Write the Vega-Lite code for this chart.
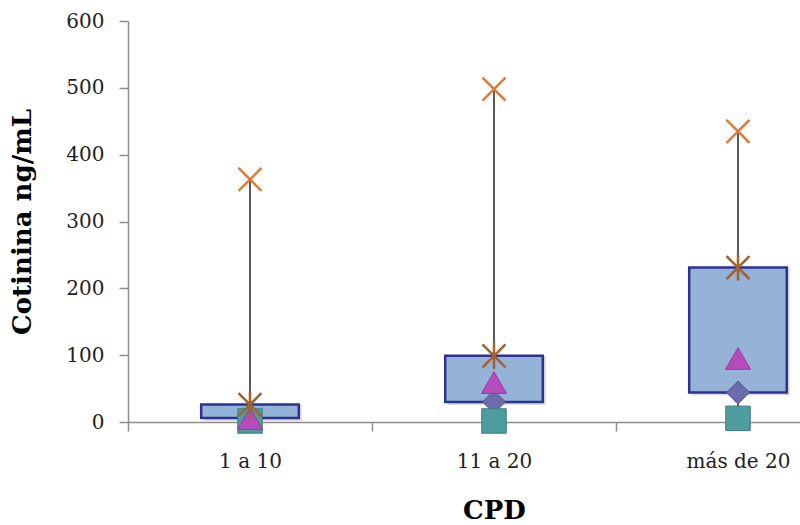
{
  "$schema": "https://vega.github.io/schema/vega-lite/v6.json",
  "width": 672,
  "height": 401,
  "autosize": {"type": "none"},
  "padding": {"left": 128, "top": 21, "right": 0, "bottom": 103},
  "background": "white",
  "config": {
    "view": {"stroke": null},
    "axis": {
      "domainColor": "#8c8c8c",
      "tickColor": "#8c8c8c",
      "domainWidth": 1.5,
      "tickWidth": 1.5,
      "tickSize": 9,
      "grid": false,
      "labelFont": "DejaVu Serif",
      "labelFontSize": 20,
      "labelColor": "#222222",
      "titleFont": "DejaVu Serif",
      "titleFontWeight": "bold",
      "titleFontSize": 26,
      "titleColor": "#000000"
    }
  },
  "data": {
    "values": [
      {"cat": "1 a 10", "min": 1.5, "q1": 6, "med": 5, "q3": 26, "max": 363},
      {"cat": "11 a 20", "min": 1.5, "q1": 30, "med": 59, "q3": 99, "max": 498},
      {"cat": "más de 20", "min": 5.5, "q1": 44, "med": 95, "q3": 231, "max": 435}
    ]
  },
  "encoding": {
    "x": {
      "field": "cat",
      "type": "nominal",
      "sort": null,
      "scale": {"range": [0, 732], "paddingInner": 0, "paddingOuter": 0},
      "axis": {
        "title": "CPD",
        "labelAngle": 0,
        "labelPadding": 20,
        "tickBand": "extent",
        "titlePadding": 26
      }
    }
  },
  "layer": [
    {
      "mark": {"type": "rule", "color": "#000000", "strokeWidth": 1.3},
      "encoding": {
        "y": {
          "field": "min",
          "type": "quantitative",
          "scale": {"domain": [0, 600], "nice": false},
          "axis": {
            "title": "Cotinina ng/mL",
            "values": [0, 100, 200, 300, 400, 500, 600],
            "labelPadding": 15,
            "titlePadding": 30
          }
        },
        "y2": {"field": "max"}
      }
    },
    {
      "mark": {"type": "bar", "width": {"band": 0.4}, "color": "#888888", "opacity": 0.3, "xOffset": 3, "yOffset": 3},
      "encoding": {
        "y": {"field": "q1", "type": "quantitative"},
        "y2": {"field": "q3"}
      }
    },
    {
      "mark": {"type": "bar", "width": {"band": 0.4}, "fill": "#95B3D7", "stroke": "#2E3192", "strokeWidth": 2.5},
      "encoding": {
        "y": {"field": "q1", "type": "quantitative"},
        "y2": {"field": "q3"}
      }
    },
    {
      "mark": {"type": "point", "shape": "diamond", "size": 529, "filled": true, "fill": "#6C6BAD", "stroke": "#55549A", "strokeWidth": 1, "opacity": 1},
      "encoding": {"y": {"field": "q1", "type": "quantitative"}}
    },
    {
      "mark": {"type": "point", "shape": "square", "size": 600, "filled": true, "fill": "#4E9C9D", "stroke": "#3B7E80", "strokeWidth": 1, "opacity": 1},
      "encoding": {"y": {"field": "min", "type": "quantitative"}}
    },
    {
      "mark": {"type": "point", "shape": "triangle-up", "size": 625, "filled": true, "fill": "#B64CBB", "stroke": "#9A3A9E", "strokeWidth": 1, "opacity": 1},
      "encoding": {"y": {"field": "med", "type": "quantitative"}}
    },
    {
      "mark": {"type": "point", "shape": "M-1,-1L1,1M-1,1L1,-1M0,-1.15L0,1.15", "size": 529, "filled": false, "stroke": "#A0622F", "strokeWidth": 2.5, "opacity": 1},
      "encoding": {"y": {"field": "q3", "type": "quantitative"}}
    },
    {
      "mark": {"type": "point", "shape": "M-1,-1L1,1M-1,1L1,-1", "size": 529, "filled": false, "stroke": "#E0793A", "strokeWidth": 2.5, "opacity": 1},
      "encoding": {"y": {"field": "max", "type": "quantitative"}}
    }
  ]
}
